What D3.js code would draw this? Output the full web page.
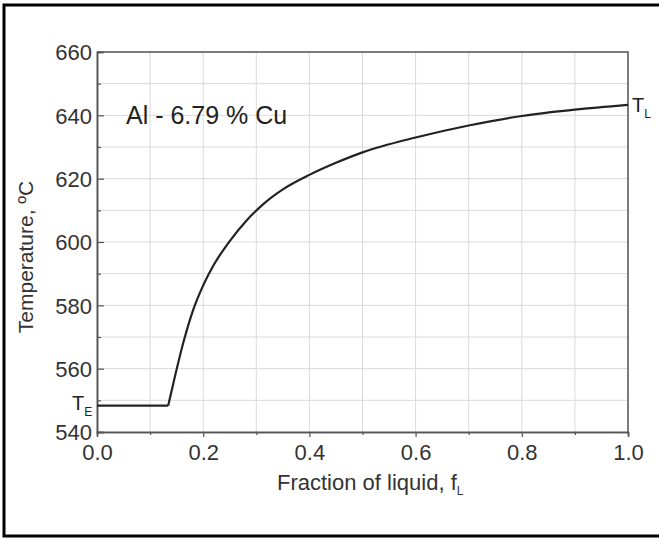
<!DOCTYPE html>
<html>
<head>
<meta charset="utf-8">
<script src="https://cdn.jsdelivr.net/npm/d3@7"></script>
<style>
  body { margin: 0; background: #fff; }
  text { font-family: "Liberation Sans", Arial, sans-serif; }
</style>
</head>
<body>
<div id="chart"></div>
<script>
// Data
let fractionLiquid = [0, 0.134, 0.145, 0.163, 0.181, 0.20, 0.22, 0.25, 0.28, 0.31, 0.35, 0.40, 0.45, 0.50, 0.60, 0.70, 0.80, 0.90, 1.0]
let temperature = [548.3, 548.3, 556.3, 568.5, 578.5, 586.3, 592.8, 600.3, 606.5, 611.5, 616.6, 621.2, 625.0, 628.3, 633.0, 636.8, 639.8, 641.8, 643.3]
let xTicks = [0, 0.2, 0.4, 0.6, 0.8, 1.0]
let xMinorTicks = [0.1, 0.3, 0.5, 0.7, 0.9]
let yTicks = [540, 560, 580, 600, 620, 640, 660]
let yMinorTicks = [550, 570, 590, 610, 630, 650]
let xGrid = [0, 0.1, 0.2, 0.3, 0.4, 0.5, 0.6, 0.7, 0.8, 0.9, 1.0]
let yGrid = [540, 550, 560, 570, 580, 590, 600, 610, 620, 630, 640, 650, 660]

let width = 659
let height = 538
let margin = {left: 97, right: 31, top: 52, bottom: 106}

const svg = d3.select("#chart")
              .append("svg")
              .attr("width", width)
              .attr("height", height)

// Outer frame
svg.append("rect")
   .attr("x", 4)
   .attr("y", 5)
   .attr("width", 660)
   .attr("height", 531)
   .attr("fill", "none")
   .attr("stroke", "#000")
   .attr("stroke-width", 3)

let x = d3.scaleLinear().domain([0, 1]).range([margin.left, width - margin.right])
let y = d3.scaleLinear().domain([540, 660]).range([height - margin.bottom, margin.top])

// Grid lines
svg.append("g")
   .selectAll("line")
   .data(xGrid)
   .enter()
   .append("line")
   .attr("x1", d => x(d)).attr("x2", d => x(d))
   .attr("y1", y(540)).attr("y2", y(660))
   .attr("stroke", "#dadada")
   .attr("stroke-width", 1)

svg.append("g")
   .selectAll("line")
   .data(yGrid)
   .enter()
   .append("line")
   .attr("x1", x(0)).attr("x2", x(1))
   .attr("y1", d => y(d)).attr("y2", d => y(d))
   .attr("stroke", "#dadada")
   .attr("stroke-width", 1)

// Axes
let xAxis = d3.axisBottom(x).tickValues(xTicks).tickFormat(d3.format(".1f")).tickSize(5).tickPadding(7)
let xMinor = d3.axisBottom(x).tickValues(xMinorTicks).tickFormat("").tickSize(3)
let yAxis = d3.axisLeft(y).tickValues(yTicks).tickFormat(d3.format("d")).tickSize(-7).tickPadding(5)
let yMinor = d3.axisLeft(y).tickValues(yMinorTicks).tickFormat("").tickSize(-4)

let gx = svg.append("g").attr("transform", `translate(0,${y(540)})`).call(xAxis)
svg.append("g").attr("transform", `translate(0,${y(540)})`).call(xMinor)
let gy = svg.append("g").attr("transform", `translate(${x(0)},0)`).call(yAxis)
svg.append("g").attr("transform", `translate(${x(0)},0)`).call(yMinor)

svg.selectAll(".domain").attr("stroke", "#555").attr("stroke-width", 1.5)
svg.selectAll(".tick line").attr("stroke", "#555").attr("stroke-width", 1.2)
gx.selectAll("text").attr("font-size", 22).attr("fill", "#333").attr("dy", "0.71em")
gy.selectAll("text").attr("font-size", 22).attr("fill", "#333").attr("dy", "0.36em")

// Top and right frame of the plot
svg.append("path")
   .attr("d", `M${x(0)},${y(660)}H${x(1)}V${y(540)}`)
   .attr("fill", "none")
   .attr("stroke", "#555")
   .attr("stroke-width", 1.5)

// Curve: flat eutectic part, then the rising liquidus part
let points = fractionLiquid.map((f, i) => [f, temperature[i]])
let line = d3.line().x(d => x(d[0])).y(d => y(d[1]))

svg.append("path")
   .attr("d", line(points.slice(0, 2)))
   .attr("fill", "none")
   .attr("stroke", "#222")
   .attr("stroke-width", 2.2)

svg.append("path")
   .attr("d", line.curve(d3.curveMonotoneX)(points.slice(1)))
   .attr("fill", "none")
   .attr("stroke", "#222")
   .attr("stroke-width", 2.2)

// Labels
svg.append("text")
   .attr("x", 126)
   .attr("y", y(640) + 9)
   .attr("font-size", 25)
   .attr("fill", "#222")
   .text("Al - 6.79 % Cu")

let te = svg.append("text")
   .attr("x", 72)
   .attr("y", y(548.3) + 4)
   .attr("font-size", 20)
   .attr("fill", "#222")
te.append("tspan").text("T")
te.append("tspan").attr("font-size", 12).attr("dy", 6).text("E")

let tl = svg.append("text")
   .attr("x", x(1) + 4)
   .attr("y", y(643.3) + 7)
   .attr("font-size", 20)
   .attr("fill", "#222")
tl.append("tspan").text("T")
tl.append("tspan").attr("font-size", 12).attr("dy", 6).text("L")

let xt = svg.append("text")
   .attr("x", 277)
   .attr("y", 490)
   .attr("font-size", 22)
   .attr("fill", "#333")
xt.append("tspan").text("Fraction of liquid, f")
xt.append("tspan").attr("font-size", 12).attr("dy", 5).text("L")

svg.append("text")
   .attr("transform", `translate(33,257) rotate(-90)`)
   .attr("text-anchor", "middle")
   .attr("font-size", 21)
   .attr("fill", "#333")
   .text("Temperature, ºC")
</script>
</body>
</html>
